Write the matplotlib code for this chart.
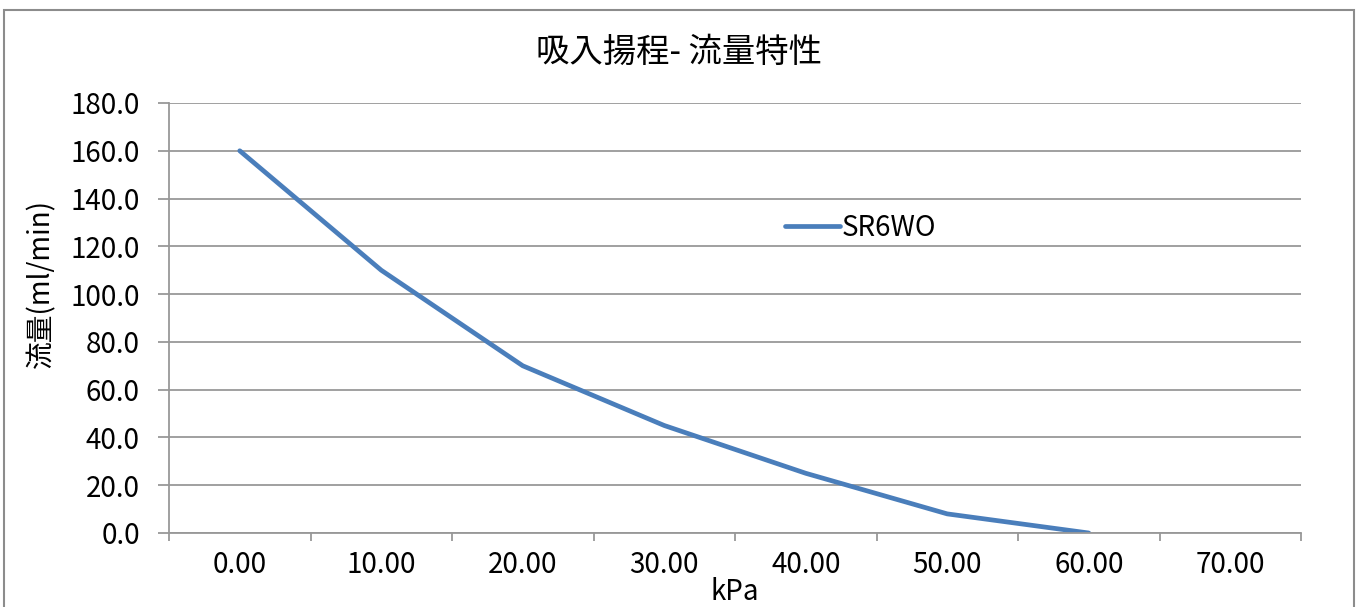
import matplotlib
matplotlib.use("Agg")
import matplotlib.pyplot as plt
from matplotlib.patches import Rectangle

plt.rcParams['font.family'] = ['Noto Sans CJK JP', 'DejaVu Sans']

categories = ["0.00", "10.00", "20.00", "30.00", "40.00", "50.00", "60.00", "70.00"]
flow = [160, 110, 70, 45, 25, 8, 0]
series_name = "SR6WO"
yticks = [0, 20, 40, 60, 80, 100, 120, 140, 160, 180]

W, H = 1358, 607
fig = plt.figure(figsize=(W / 100, H / 100), dpi=100)
ax = fig.add_axes([169 / W, 1 - 533 / H, (1301 - 169) / W, (533 - 103) / H])

grey = '#989898'
xs = list(range(len(flow)))
ax.plot(xs, flow, color='#4a7ebb', lw=3.4, solid_capstyle='round', label=series_name)

ax.set_xlim(-0.5, len(categories) - 0.5)
ax.set_ylim(0, 180)
ax.set_yticks(yticks)
ax.set_yticklabels([f"{v:.1f}" for v in yticks], fontsize=20)
ax.set_xticks(range(len(categories)))
ax.set_xticklabels(categories, fontsize=20)
ax.tick_params(axis='x', length=0, pad=12)
ax.set_xticks([i - 0.5 for i in range(len(categories) + 1)], minor=True)
ax.tick_params(axis='x', which='minor', length=6, color=grey, width=1.3)
ax.tick_params(axis='y', length=8, color=grey, width=1.3, pad=13)

ax.grid(axis='y', color=grey, lw=1.3)
ax.set_axisbelow(True)
for s in ['top', 'right']:
    ax.spines[s].set_visible(False)
for s in ['left', 'bottom']:
    ax.spines[s].set_color(grey)
    ax.spines[s].set_linewidth(1.3)

fig.text(735 / W, 1 - 592 / H, "kPa", fontsize=20, ha='center', va='center')
fig.text(41 / W, 1 - 284 / H, "流量(ml/min)", fontsize=20, ha='center', va='center', rotation=90)
fig.text(679 / W, 1 - 52 / H, "吸入揚程- 流量特性", fontsize=24, ha='center', va='center')

leg = ax.legend(loc='center left', bbox_to_anchor=((771 - 169) / (1301 - 169), (533 - 228) / (533 - 103)),
                frameon=False, fontsize=20, handlelength=2.0, handletextpad=0.05, borderpad=0)

fig.patches.append(Rectangle((4 / W, -0.05), (1354 - 4) / W, 1.05 - 10 / H,
                             transform=fig.transFigure, fill=False, edgecolor='#8c8c8c', lw=1.5))

fig.savefig("out.png", dpi=100)
